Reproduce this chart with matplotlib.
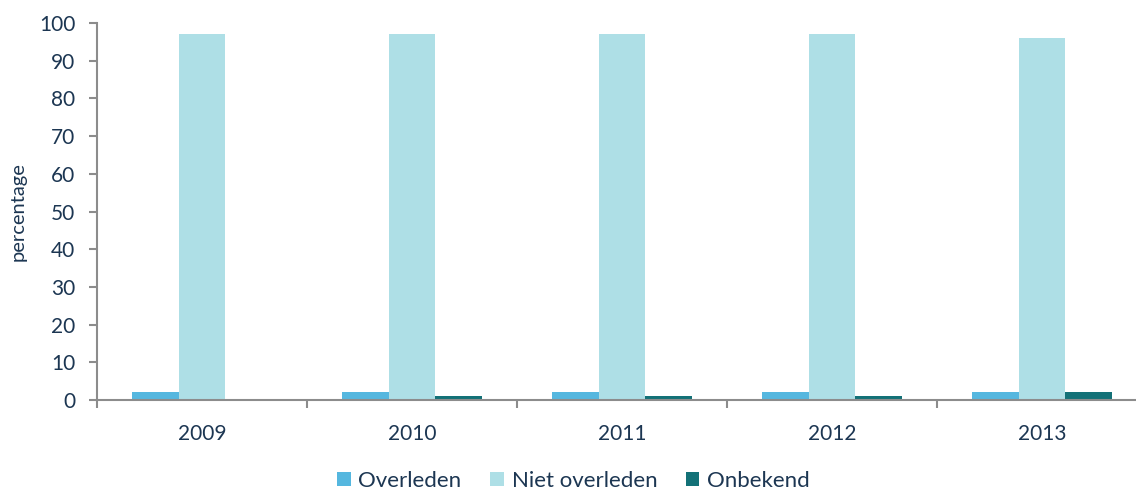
import numpy as np
import matplotlib.pyplot as plt

jaren = ["2009", "2010", "2011", "2012", "2013"]
overleden = [2, 2, 2, 2, 2]
niet_overleden = [97, 97, 97, 97, 96]
onbekend = [0, 1, 1, 1, 2]

tekst = "#1c3652"
plt.rcParams['font.family'] = ['Lato', 'DejaVu Sans']

fig = plt.figure(figsize=(11.36, 4.93), dpi=100)
# the right end of the axis runs past the edge of the picture
ax = fig.add_axes([97 / 1136, 93 / 493, 1050 / 1136, 377 / 493])

x = np.arange(len(jaren))
w = 0.222
ax.bar(x - w, overleden, w, color="#55b7df", label="Overleden")
ax.bar(x, niet_overleden, w, color="#aedfe6", label="Niet overleden")
ax.bar(x + w, onbekend, w, color="#137177", label="Onbekend")

ax.set_xlim(-0.5, len(jaren) - 0.5)
ax.set_ylim(0, 100)
ax.set_yticks(range(0, 101, 10))
ax.set_xticks(x)
ax.set_xticklabels(jaren)
ax.set_xticks(np.arange(-0.5, len(jaren) - 0.4, 1), minor=True)
ax.tick_params(axis="x", which="major", length=0, pad=17, labelsize=15, colors=tekst)
ax.tick_params(axis="x", which="minor", length=5.5, color="#8c8c8c", width=1.5)
ax.tick_params(axis="y", length=5.5, color="#8c8c8c", width=1.5, labelsize=15, labelcolor=tekst, pad=10)
ax.set_ylabel("percentage", fontsize=14.5, color=tekst, labelpad=9)

for s in ["top", "right"]:
    ax.spines[s].set_visible(False)
for s in ["left", "bottom"]:
    ax.spines[s].set_color("#8c8c8c")
    ax.spines[s].set_linewidth(1.5)

leg = fig.legend(loc="lower center", bbox_to_anchor=(0.505, -0.036), ncol=3, frameon=False,
                 fontsize=16, handlelength=0.6, handleheight=0.6, handletextpad=0.35,
                 columnspacing=1.3)
for t in leg.get_texts():
    t.set_color(tekst)

fig.savefig("out.png", dpi=100)
